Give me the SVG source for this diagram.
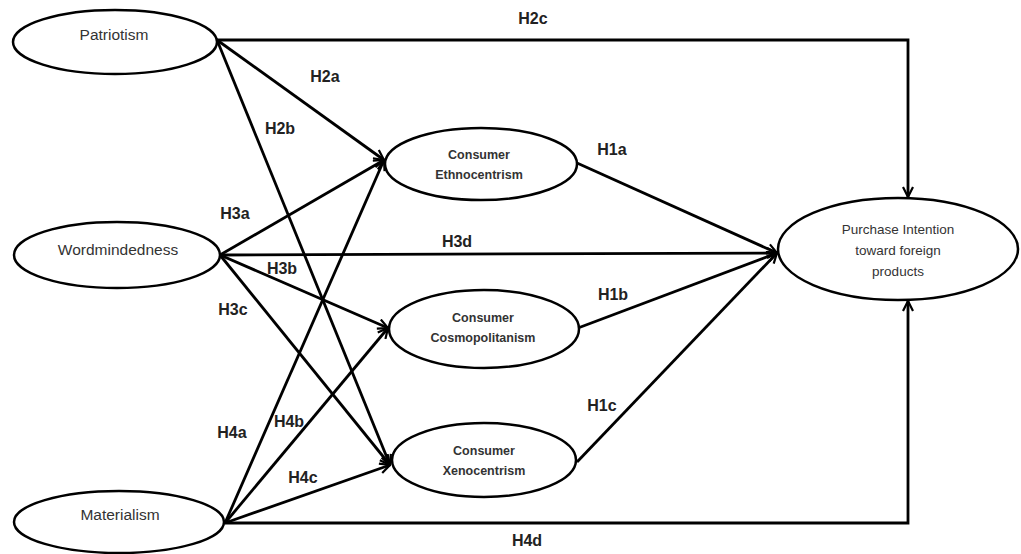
<svg xmlns="http://www.w3.org/2000/svg" width="1021" height="554" viewBox="0 0 1021 554">
<style>
.node{fill:#fff;stroke:#000;stroke-width:2.5}
.nt{font-family:"Liberation Sans",Arial,sans-serif;font-size:15.5px;fill:#333;text-anchor:middle}
.pt{font-family:"Liberation Sans",Arial,sans-serif;font-size:13.5px;fill:#333;text-anchor:middle}
.ct{font-family:"Liberation Sans",Arial,sans-serif;font-size:12.5px;font-weight:bold;fill:#333;text-anchor:middle}
.lb{font-family:"Liberation Sans",Arial,sans-serif;font-size:16px;font-weight:bold;fill:#222;text-anchor:middle}
.e{fill:none;stroke:#000;stroke-width:2.8}
.a{marker-end:url(#arr)}
</style>
<defs>
<marker id="arr" viewBox="0 0 12 12" refX="11" refY="6" markerWidth="12" markerHeight="12" markerUnits="userSpaceOnUse" orient="auto">
<path d="M1,1 L11,6 L1,11" fill="none" stroke="#000" stroke-width="2.2"/>
</marker>
</defs>
<g id="connectors">
<polyline class="e a" points="217,40 908,40 908,197"/>
<polyline class="e a" points="225,523 908,523 908,301"/>
<line class="e a" x1="217" y1="40" x2="384" y2="160"/>
<line class="e a" x1="217" y1="40" x2="390" y2="465"/>
<line class="e a" x1="220" y1="255" x2="384" y2="160"/>
<line class="e a" x1="220" y1="255" x2="777" y2="253"/>
<line class="e a" x1="220" y1="255" x2="388" y2="328"/>
<line class="e a" x1="220" y1="255" x2="390" y2="465"/>
<line class="e a" x1="225" y1="523" x2="384" y2="160"/>
<line class="e a" x1="225" y1="523" x2="388" y2="328"/>
<line class="e a" x1="225" y1="523" x2="390" y2="465"/>
<line class="e a" x1="577" y1="163" x2="777" y2="253"/>
<line class="e a" x1="578" y1="328" x2="777" y2="253"/>
<line class="e a" x1="577" y1="462" x2="777" y2="253"/>
</g>
<g id="labels">
<text class="lb" x="533" y="24">H2c</text>
<text class="lb" x="325" y="82">H2a</text>
<text class="lb" x="280" y="134">H2b</text>
<text class="lb" x="612" y="155">H1a</text>
<text class="lb" x="235" y="219">H3a</text>
<text class="lb" x="457" y="247">H3d</text>
<text class="lb" x="282" y="274">H3b</text>
<text class="lb" x="613" y="300">H1b</text>
<text class="lb" x="233" y="315">H3c</text>
<text class="lb" x="602" y="411">H1c</text>
<text class="lb" x="232" y="438">H4a</text>
<text class="lb" x="289" y="427">H4b</text>
<text class="lb" x="303" y="483">H4c</text>
<text class="lb" x="527" y="546">H4d</text>
</g>
<g id="patriotism">
<ellipse class="node" cx="115" cy="42" rx="102" ry="32"/>
<text class="nt" x="114" y="40">Patriotism</text>
</g>
<g id="wordmindedness">
<ellipse class="node" cx="117" cy="255" rx="103" ry="33"/>
<text class="nt" x="118" y="255">Wordmindedness</text>
</g>
<g id="materialism">
<ellipse class="node" cx="119" cy="522" rx="105" ry="31"/>
<text class="nt" x="120" y="520">Materialism</text>
</g>
<g id="ethnocentrism">
<ellipse class="node" cx="481" cy="164" rx="96" ry="36"/>
<text class="ct" x="479" y="159">Consumer</text>
<text class="ct" x="479" y="179">Ethnocentrism</text>
</g>
<g id="cosmopolitanism">
<ellipse class="node" cx="484" cy="329" rx="95" ry="39"/>
<text class="ct" x="483" y="322">Consumer</text>
<text class="ct" x="483" y="342">Cosmopolitanism</text>
</g>
<g id="xenocentrism">
<ellipse class="node" cx="484" cy="460" rx="92" ry="37"/>
<text class="ct" x="484" y="455">Consumer</text>
<text class="ct" x="484" y="475">Xenocentrism</text>
</g>
<g id="purchase">
<ellipse class="node" cx="898" cy="249" rx="120" ry="51"/>
<text class="pt" x="898" y="234">Purchase Intention</text>
<text class="pt" x="898" y="255">toward foreign</text>
<text class="pt" x="898" y="276">products</text>
</g>
</svg>
